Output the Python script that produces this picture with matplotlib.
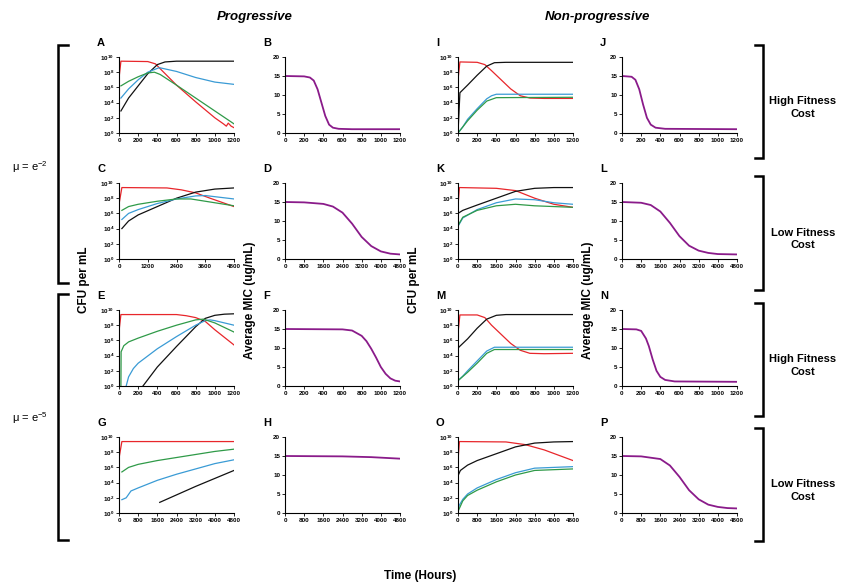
import matplotlib
matplotlib.use('Agg')
import matplotlib.pyplot as plt
import numpy as np

plt.rcParams['font.family'] = ['Liberation Sans', 'DejaVu Sans']

# colours of the four populations and the MIC curve
RED = '#e8262b'
BLACK = '#111111'
BLUE = '#3a9bd5'
GREEN = '#2f9a48'
PURPLE = '#8a1b8a'

# ---- CFU panels: (hours, log10 CFU per mL) ----
A_red = [(0, 7.2), (20, 9.45), (300, 9.4), (380, 9.1), (450, 8.2), (600, 6.3), (800, 4.1),
         (1000, 2.0), (1090, 1.2), (1120, 0.9), (1140, 1.3), (1170, 0.9), (1200, 0.7)]
A_black = [(20, 2.9), (100, 4.6), (200, 6.2), (300, 7.8), (400, 9.0), (480, 9.35), (600, 9.45), (1200, 9.45)]
A_blue = [(20, 4.6), (100, 5.8), (200, 7.0), (300, 8.0), (420, 8.6), (600, 8.1), (800, 7.3), (1000, 6.7), (1200, 6.4)]
A_green = [(20, 6.2), (100, 6.8), (200, 7.4), (300, 7.9), (370, 8.0), (430, 7.7), (600, 6.3),
           (800, 4.6), (1000, 2.9), (1200, 1.2)]

C_red = [(0, 7.2), (120, 9.4), (2000, 9.35), (2600, 9.1), (3200, 8.7), (3800, 8.0), (4800, 6.9)]
C_black = [(120, 4.0), (400, 5.0), (800, 5.8), (1600, 6.9), (2400, 8.0), (3200, 8.8), (4000, 9.2), (4800, 9.35)]
C_blue = [(120, 5.2), (400, 6.0), (800, 6.5), (1600, 7.3), (2400, 7.9), (3200, 8.3), (3600, 8.35), (4000, 8.2), (4800, 7.9)]
C_green = [(120, 6.4), (400, 6.9), (800, 7.2), (1600, 7.6), (2400, 7.9), (3000, 7.9), (3600, 7.6), (4200, 7.3), (4800, 7.0)]

E_red = [(0, 7.2), (20, 9.4), (600, 9.4), (700, 9.25), (800, 9.0), (900, 8.5), (1000, 7.4), (1100, 6.4), (1200, 5.4)]
E_green = [(20, 0.0), (22, 4.5), (50, 5.3), (100, 5.8), (200, 6.3), (400, 7.2), (600, 8.0), (800, 8.7),
           (880, 8.8), (1000, 8.3), (1200, 7.1)]
E_blue = [(75, 0.0), (100, 1.2), (150, 2.3), (200, 3.0), (400, 4.9), (600, 6.5), (800, 8.0), (900, 8.6),
          (950, 8.7), (1000, 8.6), (1100, 8.3), (1200, 8.0)]
E_black = [(250, 0.0), (400, 2.5), (600, 5.2), (800, 7.8), (900, 8.9), (1000, 9.3), (1100, 9.45), (1200, 9.5)]

G_red = [(0, 7.2), (120, 9.4), (4800, 9.4)]
G_green = [(120, 5.4), (400, 6.0), (800, 6.4), (1600, 6.9), (2400, 7.3), (3200, 7.7), (4000, 8.1), (4800, 8.4)]
G_blue = [(120, 1.75), (300, 2.0), (500, 2.9), (800, 3.3), (1600, 4.3), (2400, 5.1), (3200, 5.8), (4000, 6.5), (4800, 7.0)]
G_black = [(1700, 1.4), (3200, 3.5), (4800, 5.6)]

I_red = [(0, 7.0), (20, 9.35), (200, 9.3), (280, 9.0), (350, 8.2), (450, 7.0), (550, 5.8), (650, 4.9),
         (750, 4.6), (900, 4.55), (1200, 4.55)]
I_black = [(0, 0.0), (20, 5.3), (100, 6.3), (200, 7.6), (300, 8.8), (380, 9.25), (500, 9.3), (1200, 9.3)]
I_blue = [(0, 0.0), (50, 0.8), (100, 1.8), (200, 3.2), (300, 4.5), (350, 4.9), (400, 5.1), (1200, 5.1)]
I_green = [(0, 0.0), (100, 1.6), (200, 3.0), (300, 4.2), (400, 4.65), (1200, 4.7)]

K_red = [(0, 7.0), (60, 9.4), (1600, 9.3), (2400, 9.0), (3200, 8.0), (4000, 7.2), (4800, 6.8)]
K_black = [(0, 6.0), (200, 6.4), (800, 7.1), (1600, 8.0), (2400, 8.9), (3200, 9.3), (4000, 9.4), (4800, 9.4)]
K_blue = [(0, 4.3), (200, 5.4), (800, 6.5), (1600, 7.4), (2400, 7.9), (3200, 7.8), (4000, 7.4), (4800, 7.2)]
K_green = [(0, 4.4), (200, 5.5), (800, 6.4), (1600, 7.0), (2400, 7.2), (3200, 7.0), (4000, 6.9), (4800, 6.8)]

M_red = [(0, 7.0), (20, 9.35), (200, 9.35), (280, 9.0), (350, 8.0), (450, 6.8), (550, 5.6), (650, 4.7),
         (750, 4.3), (900, 4.25), (1200, 4.3)]
M_black = [(0, 5.0), (100, 6.2), (200, 7.6), (300, 8.8), (400, 9.3), (500, 9.4), (1200, 9.4)]
M_blue = [(0, 0.7), (50, 1.3), (100, 2.0), (200, 3.3), (300, 4.6), (380, 5.1), (1200, 5.1)]
M_green = [(0, 0.7), (100, 1.8), (200, 3.0), (300, 4.3), (380, 4.8), (1200, 4.8)]

O_red = [(0, 6.9), (60, 9.4), (2000, 9.35), (2800, 9.0), (3600, 8.3), (4200, 7.6), (4800, 6.9)]
O_black = [(0, 4.9), (100, 5.6), (400, 6.3), (800, 6.9), (1600, 7.8), (2400, 8.7), (3200, 9.2), (4000, 9.35), (4800, 9.4)]
O_blue = [(0, 0.2), (50, 1.0), (200, 1.8), (400, 2.5), (800, 3.3), (1600, 4.4), (2400, 5.3), (3200, 5.9), (4000, 6.0), (4800, 6.1)]
O_green = [(0, 0.2), (200, 1.6), (400, 2.3), (800, 3.0), (1600, 4.1), (2400, 5.0), (3200, 5.6), (4000, 5.7), (4800, 5.8)]

# ---- MIC panels: (hours, average MIC ug/mL) ----
B_mic = [(0, 15), (200, 14.9), (260, 14.6), (300, 13.8), (340, 11.5), (380, 8.0), (420, 4.5), (460, 2.2),
         (500, 1.4), (560, 1.1), (700, 1.0), (1200, 1.0)]
D_mic = [(0, 15), (800, 14.9), (1600, 14.5), (2000, 13.8), (2400, 12.2), (2800, 9.3), (3200, 5.8),
         (3600, 3.4), (4000, 2.0), (4400, 1.4), (4800, 1.2)]
F_mic = [(0, 15), (600, 14.9), (700, 14.6), (800, 13.2), (850, 11.8), (900, 9.8), (950, 7.5), (1000, 5.0),
         (1050, 3.2), (1100, 2.0), (1150, 1.4), (1200, 1.2)]
H_mic = [(0, 15), (2400, 14.9), (3600, 14.7), (4800, 14.3)]
J_mic = [(0, 15), (100, 14.8), (140, 14.0), (180, 11.5), (220, 7.5), (260, 4.0), (300, 2.2), (350, 1.4),
         (450, 1.1), (1200, 1.0)]
L_mic = [(0, 15), (800, 14.8), (1200, 14.2), (1600, 12.5), (2000, 9.5), (2400, 6.0), (2800, 3.5),
         (3200, 2.2), (3600, 1.6), (4000, 1.3), (4800, 1.2)]
N_mic = [(0, 15), (150, 14.9), (200, 14.5), (250, 12.5), (280, 10.5), (320, 7.0), (360, 4.0), (400, 2.4),
         (450, 1.6), (550, 1.2), (1200, 1.1)]
P_mic = [(0, 15), (800, 14.9), (1600, 14.2), (2000, 12.5), (2400, 9.5), (2800, 6.0), (3200, 3.6),
         (3600, 2.2), (4000, 1.6), (4400, 1.3), (4800, 1.2)]

xt_1200 = [0, 200, 400, 600, 800, 1000, 1200]
xt_4800_a = [0, 1200, 2400, 3600, 4800]
xt_4800_b = [0, 800, 1600, 2400, 3200, 4000, 4800]

# panel letter -> (row, col, kind, curves, xticks)
panels = {
    'A': (0, 0, 'cfu', [A_red, A_black, A_blue, A_green], xt_1200),
    'B': (0, 1, 'mic', [B_mic], xt_1200),
    'I': (0, 2, 'cfu', [I_red, I_black, I_blue, I_green], xt_1200),
    'J': (0, 3, 'mic', [J_mic], xt_1200),
    'C': (1, 0, 'cfu', [C_red, C_black, C_blue, C_green], xt_4800_a),
    'D': (1, 1, 'mic', [D_mic], xt_4800_b),
    'K': (1, 2, 'cfu', [K_red, K_black, K_blue, K_green], xt_4800_b),
    'L': (1, 3, 'mic', [L_mic], xt_4800_b),
    'E': (2, 0, 'cfu', [E_red, E_black, E_blue, E_green], xt_1200),
    'F': (2, 1, 'mic', [F_mic], xt_1200),
    'M': (2, 2, 'cfu', [M_red, M_black, M_blue, M_green], xt_1200),
    'N': (2, 3, 'mic', [N_mic], xt_1200),
    'G': (3, 0, 'cfu', [G_red, G_black, G_blue, G_green], xt_4800_b),
    'H': (3, 1, 'mic', [H_mic], xt_4800_b),
    'O': (3, 2, 'cfu', [O_red, O_black, O_blue, O_green], xt_4800_b),
    'P': (3, 3, 'mic', [P_mic], xt_4800_b),
}

W, H = 841, 584
fig = plt.figure(figsize=(W / 100, H / 100), dpi=100)

col_left = [119, 285, 458, 622]
row_top = [57, 183, 310, 437]
ax_w, ax_h = 115, 76


def px_axes(x0, y0, w, h):
    return fig.add_axes([x0 / W, 1 - (y0 + h) / H, w / W, h / H])


for letter, (r, c, kind, curves, xt) in panels.items():
    ax = px_axes(col_left[c], row_top[r], ax_w, ax_h)
    if kind == 'cfu':
        for pts, col in zip(curves, [RED, BLACK, BLUE, GREEN]):
            t = [p[0] for p in pts]
            v = [10.0 ** p[1] for p in pts]
            ax.plot(t, v, color=col, lw=0.9, clip_on=True)
        ax.set_yscale('log')
        ax.set_ylim(1, 1e10)
        ax.set_yticks([10.0 ** k for k in range(0, 11, 2)])
        ax.set_yticklabels([r'$\mathregular{10^{%d}}$' % k for k in range(0, 11, 2)])
        ax.yaxis.set_minor_locator(matplotlib.ticker.NullLocator())
    else:
        pts = curves[0]
        ax.plot([p[0] for p in pts], [p[1] for p in pts], color=PURPLE, lw=1.3)
        ax.set_ylim(0, 20)
        ax.set_yticks([0, 5, 10, 15, 20])
    ax.set_xlim(0, xt[-1])
    ax.set_xticks(xt)
    for s in ['top', 'right']:
        ax.spines[s].set_visible(False)
    for s in ['left', 'bottom']:
        ax.spines[s].set_linewidth(0.8)
    ax.tick_params(labelsize=4.5, length=2, width=0.6, pad=1.5)
    for lab in ax.get_xticklabels() + ax.get_yticklabels():
        lab.set_fontweight('bold')
    fig.text((col_left[c] - 22) / W, 1 - (row_top[r] - 14) / H, letter,
             fontsize=8, fontweight='bold', ha='left', va='center')

# column titles
fig.text(255 / W, 1 - 17 / H, 'Progressive', fontsize=9.5, fontweight='bold', style='italic', ha='center', va='center')
fig.text(597 / W, 1 - 17 / H, 'Non-progressive', fontsize=9.5, fontweight='bold', style='italic', ha='center', va='center')
fig.text(420 / W, 1 - 576 / H, 'Time (Hours)', fontsize=8.5, fontweight='bold', ha='center', va='center')

# y axis labels
for x, y, txt in [(84, 280, 'CFU per mL'), (250, 300, 'Average MIC (ug/mL)'),
                  (414, 280, 'CFU per mL'), (588, 300, 'Average MIC (ug/mL)')]:
    fig.text(x / W, 1 - y / H, txt, fontsize=8.5, fontweight='bold', rotation=90, ha='center', va='center')


def bracket(xv, xe, y0, y1):
    ys = [1 - y0 / H, 1 - y0 / H, 1 - y1 / H, 1 - y1 / H]
    xs = [xe / W, xv / W, xv / W, xe / W]
    fig.add_artist(matplotlib.lines.Line2D(xs, ys, color='black', lw=1.8, solid_joinstyle='miter'))


# left brackets (mutation rate)
bracket(58, 68, 45, 283)
bracket(58, 68, 294, 540)
fig.text(30 / W, 1 - 167 / H, r'μ = e$^{\mathregular{-2}}$', fontsize=8, ha='center', va='center')
fig.text(30 / W, 1 - 418 / H, r'μ = e$^{\mathregular{-5}}$', fontsize=8, ha='center', va='center')

# right brackets (fitness cost)
right_spans = [(45, 158), (176, 290), (303, 416), (428, 541)]
right_text = ['High Fitness\nCost', 'Low Fitness\nCost', 'High Fitness\nCost', 'Low Fitness\nCost']
for (y0, y1), txt in zip(right_spans, right_text):
    bracket(763, 755, y0, y1)
    fig.text(803 / W, 1 - ((y0 + y1) / 2 + 6) / H, txt, fontsize=8, fontweight='bold',
             ha='center', va='center', linespacing=1.3)

fig.savefig('out.png', dpi=100)
